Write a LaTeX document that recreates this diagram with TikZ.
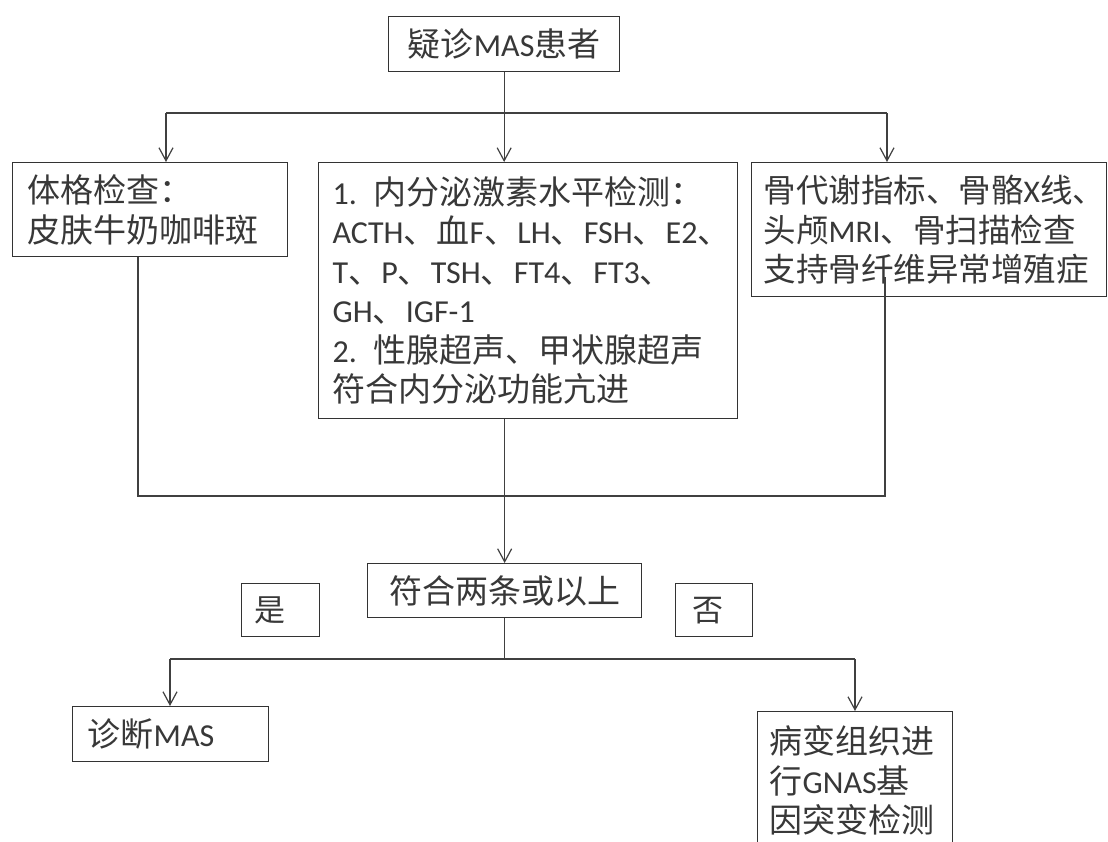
\documentclass[tikz,border=0pt]{standalone}
\usepackage{fontspec}
\setmainfont{Noto Sans CJK SC}
\newfontfamily\latinfam{Carlito}[Scale=0.97]
\newcommand\en[1]{{\latinfam #1}}
\usetikzlibrary{arrows.meta}
\hfuzz=80pt
\begin{document}
\begin{tikzpicture}[x=1pt,y=-1pt,
  box/.style={draw=black!80, line width=1.3pt, anchor=north west, inner xsep=6pt, inner ysep=0pt,
    align=left, font=\fontsize{33}{39.5}\selectfont, text=black!78},
  ln/.style={draw=black!75, line width=1.3pt},
  arr/.style={ln, -{Straight Barb[length=13pt,width=14pt,line width=1.2pt]}}
]
\useasboundingbox (0,0) rectangle (1108,841);
\fill[white] (0,0) rectangle (1108,841);

% boxes
\node[box, minimum width=231pt, minimum height=55pt] (top) at (388,16) {疑诊\en{MAS}患者};
\node[box, minimum width=275pt, minimum height=94pt, text width=245pt] (exam) at (12,162)
  {体格检查：\\皮肤牛奶咖啡斑};
\node[box, minimum width=419pt, minimum height=256pt, text width=391pt] (endo) at (318,162)
  {\en{1.} 内分泌激素水平检测：\\
   \en{ACTH}、血\en{F}、\en{LH}、\en{FSH}、\en{E2}、\\
   \en{T}、\en{P}、\en{TSH}、\en{FT4}、\en{FT3}、\\
   \en{GH}、\en{IGF-1}\\
   \en{2.} 性腺超声、甲状腺超声\\
   符合内分泌功能亢进};
\node[box, minimum width=355pt, minimum height=134pt, text width=331pt,
  font=\fontsize{32.5}{39.5}\selectfont] (bone) at (751,162)
  {骨代谢指标、骨骼\en{X}线、\\头颅\en{MRI}、骨扫描检查\\支持骨纤维异常增殖症};
\node[box, minimum width=274pt, minimum height=54pt] (crit) at (367,563) {符合两条或以上};
\node[box, minimum width=78pt, minimum height=53pt, text width=52pt,
  font=\fontsize{31}{36}\selectfont] (yes) at (241,583) {是};
\node[box, minimum width=77pt, minimum height=53pt, text width=43pt,
  font=\fontsize{31}{36}\selectfont] (no) at (675,583) {否};
\node[box, minimum width=196pt, minimum height=55pt, text width=166pt] (diag) at (72,706) {诊断\en{MAS}};
\node[box, minimum width=195pt, minimum height=138pt, text width=171pt] (gene) at (757,711)
  {病变组织进\\行\en{GNAS}基\\因突变检测};

% upper connectors
\coordinate (hl) at (166,113);
\coordinate (hr) at (887,113);
\draw[ln] (top.south) -- (top.south |- hl);
\draw[ln] (hl) -- (hr);
\draw[arr] (hl) -- (hl |- exam.north);
\draw[arr] (top.south |- hl) -- (top.south |- endo.north);
\draw[arr] (hr) -- (hr |- bone.north);

% merging connectors
\coordinate (ll) at (138,496);
\coordinate (lr) at (885,496);
\coordinate (bs) at (885,277);
\draw[ln] (ll |- exam.south) -- (ll) -- (lr) -- (bs);
\draw[arr] (crit.north |- endo.south) -- (crit.north);

% lower connectors
\coordinate (bl) at (170,659);
\coordinate (br) at (855,659);
\draw[ln] (crit.south) -- (crit.south |- bl);
\draw[ln] (bl) -- (br);
\draw[arr] (bl) -- (bl |- diag.north);
\draw[arr] (br) -- (br |- gene.north);
\end{tikzpicture}
\end{document}
